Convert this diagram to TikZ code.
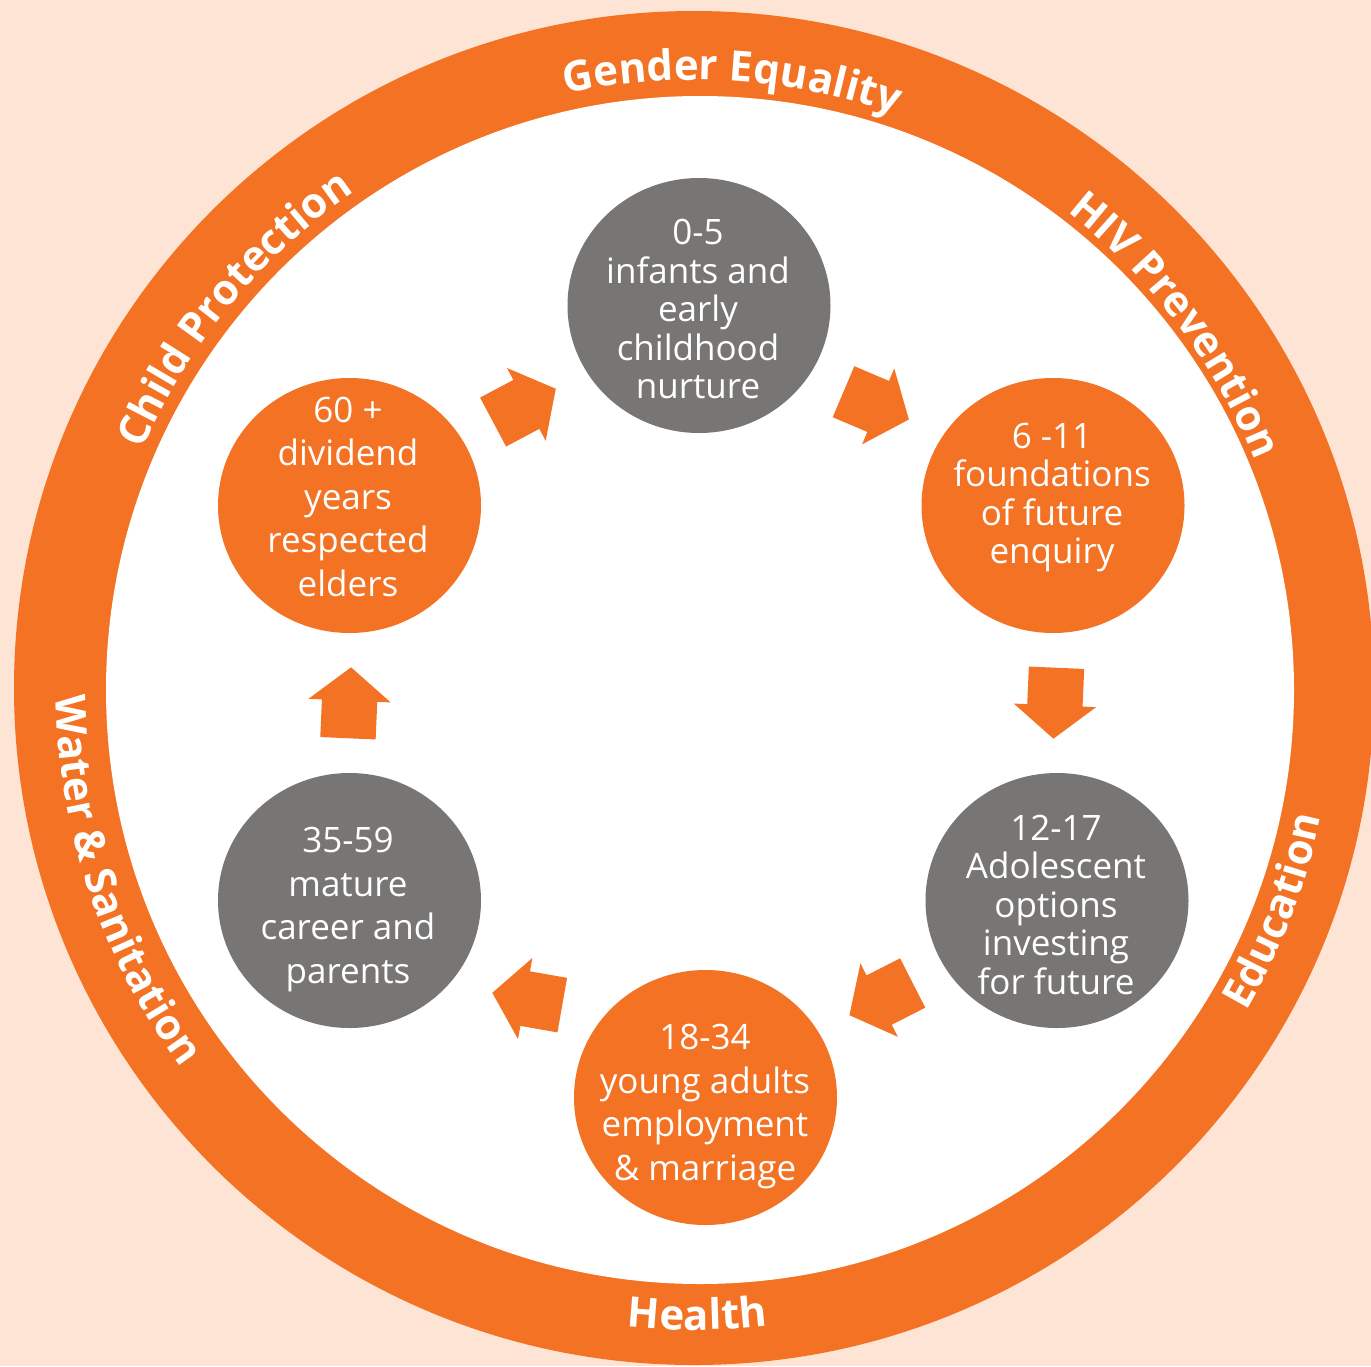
\documentclass[tikz,border=0pt]{standalone}
\usepackage{fontspec}
\setmainfont{Open Sans}
\usetikzlibrary{shapes.geometric,shapes.arrows,decorations.text,calc}
\definecolor{peach}{HTML}{FDE4D4}
\definecolor{ringorange}{HTML}{F37223}
\definecolor{stagegray}{HTML}{787674}
\newcommand\ringfont{\fontsize{42}{42}\bfseries\selectfont}
\begin{document}
\begin{tikzpicture}[x=1pt, y=1pt,
    stage/.style={ellipse, minimum width=263pt, minimum height=255pt, inner sep=0pt},
    orangestage/.style={stage, fill=ringorange}, graystage/.style={stage, fill=stagegray},
    agetext/.style={anchor=north, align=center, text=white, inner sep=0pt, font=\fontsize{35}{38.4}\selectfont},
    agetextwide/.style={agetext, font=\fontsize{35}{43.5}\selectfont},
    flow/.style={single arrow, fill=ringorange, rotate=#1, xshift=-11pt, minimum height=71pt, inner xsep=0pt, inner ysep=27.5pt, single arrow head extend=13.5pt, single arrow tip angle=102},
    ringtext/.style={decorate, decoration={text along path, text align=center, text color=white, text={|\ringfont|#1}}}]
    \useasboundingbox (0,0) rectangle (1371,-1366);
    \fill[peach] (0,0) rectangle (1371,-1366);
    \coordinate (hub) at (694,-688);
    \fill[ringorange] (hub) ellipse[x radius=680, y radius=677]; \fill[white] (700,-690) circle[radius=594];

    \path[ringtext={Gender Equality}, shift={(hub)}] (126.4:608) arc[start angle=126.4, end angle=46.4, radius=608];
    \path[ringtext={HIV Prevention}, shift={(hub)}] (77:605) arc[start angle=77, end angle=-3, radius=605];
    \path[ringtext={Child Protection}, shift={(hub)}] (180.5:601) arc[start angle=180.5, end angle=100.5, radius=601];
    \path[ringtext={Education}, shift={(hub)}] (-61:640) arc[start angle=-61, end angle=19, radius=640];
    \path[ringtext={Health}, shift={(hub)}] (-129.7:642) arc[start angle=-129.7, end angle=-49.7, radius=642];
    \path[ringtext={Water {\&} Sanitation}, shift={(hub)}] (158.6:638) arc[start angle=158.6, end angle=238.6, radius=638];

    \node[graystage] (c05) at (699,-305.5) {}; \node[orangestage] (c611) at (1053,-505.5) {}; \node[graystage] (c1217) at (1057,-900.5) {};
    \node[orangestage] (c1834) at (705.5,-1097.5) {}; \node[graystage] (c3559) at (349.5,-900.5) {}; \node[orangestage] (c60) at (349.5,-505.5) {};

    \node[agetext] (t05) at (698,-219.3) {0-5\\infants and\\early\\childhood\\nurture};
    \node[agetext] (t611) at (1052,-422.7) {6 -11\\foundations\\of future\\enquiry};
    \node[agetext] (t1217) at (1056,-815) {12-17\\Adolescent\\options\\investing\\for future};
    \node[agetextwide] (t1834) at (705,-1024) {18-34\\young adults\\employment\\\& marriage};
    \node[agetextwide] (t3559) at (348,-827.3) {35-59\\mature\\career and\\parents};
    \node[agetextwide] (t60) at (348,-396.7) {60 +\\dividend\\years\\respected\\elders};

    \node[flow=28] (a1) at ($(c60)!0.5!(c05)$) {}; \node[flow=-23] (a2) at ($(c05)!0.5!(c611)$) {};
    \node[flow=-92.5] (a3) at ($(c611)!0.5!(c1217)$) {}; \node[flow=-153] (a4) at ($(c1217)!0.5!(c1834)$) {};
    \node[flow=170] (a5) at ($(c1834)!0.5!(c3559)$) {}; \node[flow=87.5] (a6) at ($(c3559)!0.5!(c60)$) {};
\end{tikzpicture}
\end{document}
